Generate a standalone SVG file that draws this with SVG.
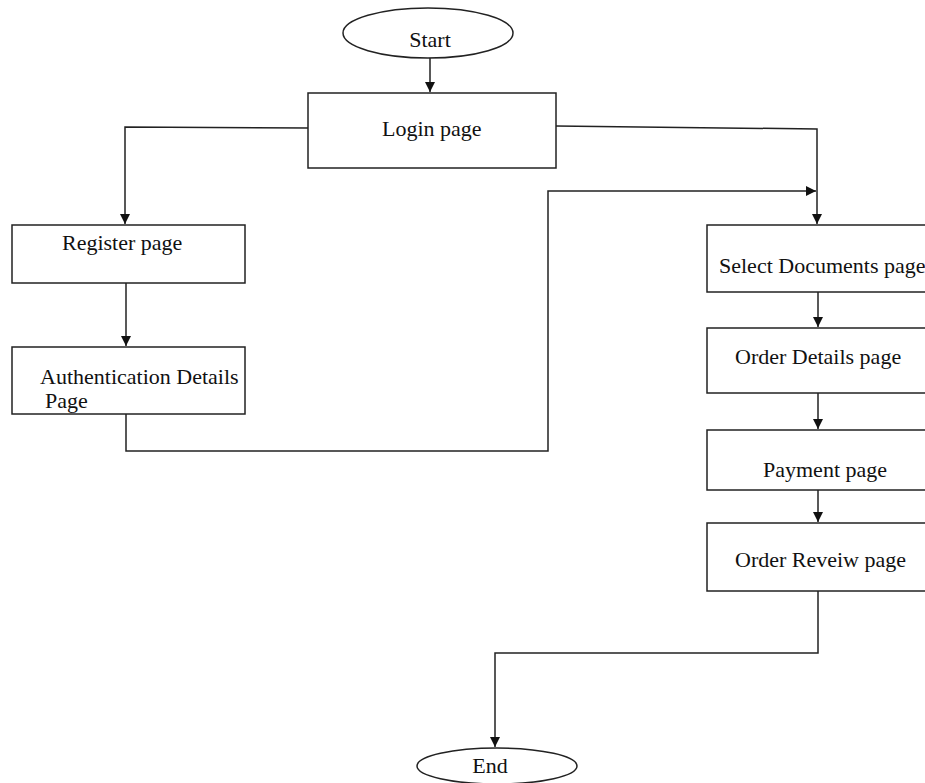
<svg xmlns="http://www.w3.org/2000/svg" width="925" height="783" viewBox="0 0 925 783">
<style>
.box{fill:#fff;stroke:#222;stroke-width:1.5}
.lbl{font-family:"Liberation Serif","Times New Roman",serif;font-size:22px;fill:#111}
.con{fill:none;stroke:#222;stroke-width:1.5}
</style>
<defs>
<marker id="arr" viewBox="0 0 10 10" refX="10" refY="5" markerWidth="10" markerHeight="10" markerUnits="userSpaceOnUse" orient="auto">
<path d="M0,0 L10,5 L0,10 z" fill="#111"/>
</marker>
</defs>
<rect width="925" height="783" fill="#fff"/>
<g id="connectors">
<path class="con" d="M430,57 V92" marker-end="url(#arr)"/>
<path class="con" d="M308,128 L125,127 V224" marker-end="url(#arr)"/>
<path class="con" d="M556,126 L817,129 V224" marker-end="url(#arr)"/>
<path class="con" d="M126,283 V346" marker-end="url(#arr)"/>
<path class="con" d="M126,414 V451 H548 V191 H816" marker-end="url(#arr)"/>
<path class="con" d="M818,292 V327" marker-end="url(#arr)"/>
<path class="con" d="M818,393 V429" marker-end="url(#arr)"/>
<path class="con" d="M818,490 V522" marker-end="url(#arr)"/>
<path class="con" d="M818,591 V653 H495 V747" marker-end="url(#arr)"/>
</g>
<g id="start">
<ellipse class="box" cx="428" cy="33" rx="85" ry="25"/>
<text class="lbl" x="430" y="47" text-anchor="middle">Start</text>
</g>
<g id="login">
<rect class="box" x="308" y="93" width="248" height="75"/>
<text class="lbl" x="382" y="136">Login page</text>
</g>
<g id="register">
<rect class="box" x="12" y="225" width="233" height="58"/>
<text class="lbl" x="62" y="250">Register page</text>
</g>
<g id="auth">
<rect class="box" x="12" y="347" width="233" height="67"/>
<text class="lbl" x="40" y="384" font-size="21.5">Authentication Details</text>
<text class="lbl" x="45" y="408" font-size="21.5">Page</text>
</g>
<g id="select">
<rect class="box" x="707" y="225" width="230" height="67"/>
<text class="lbl" x="719" y="273">Select Documents page</text>
</g>
<g id="orderdetails">
<rect class="box" x="707" y="328" width="230" height="65"/>
<text class="lbl" x="735" y="364">Order Details page</text>
</g>
<g id="payment">
<rect class="box" x="707" y="430" width="230" height="60"/>
<text class="lbl" x="763" y="477">Payment page</text>
</g>
<g id="review">
<rect class="box" x="707" y="523" width="230" height="68"/>
<text class="lbl" x="735" y="567">Order Reveiw page</text>
</g>
<g id="end">
<ellipse class="box" cx="497" cy="766" rx="80" ry="18"/>
<text class="lbl" x="490" y="773" text-anchor="middle">End</text>
</g>
</svg>
